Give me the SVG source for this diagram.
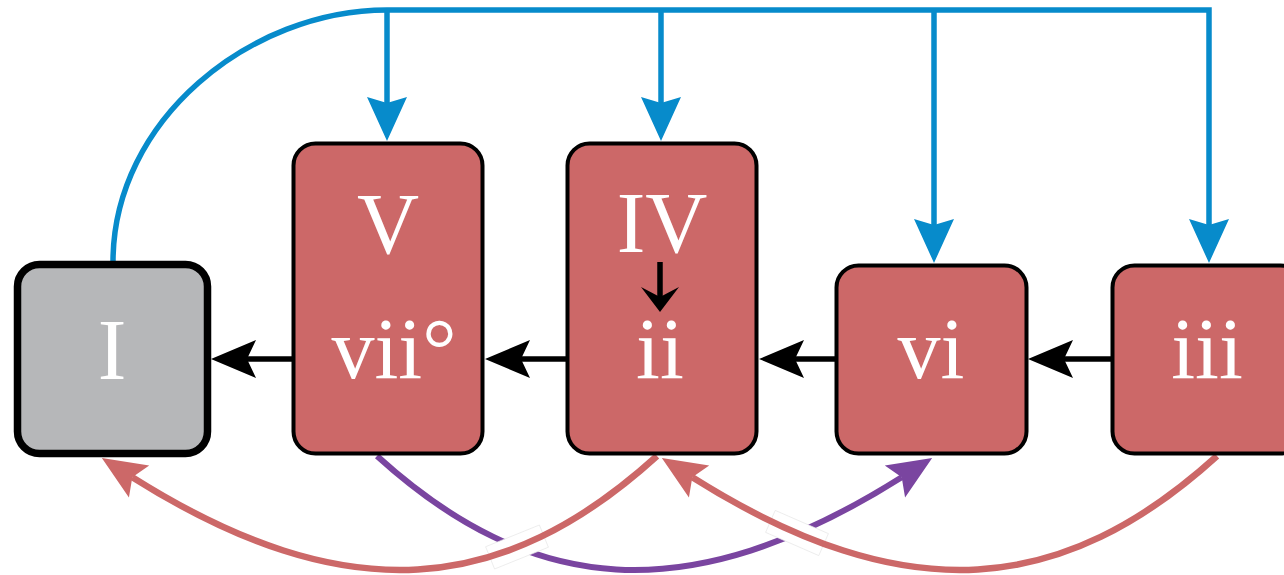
<svg xmlns="http://www.w3.org/2000/svg" width="1284" height="575" viewBox="0 0 1284 575">
<style>
.node{fill:#cc6868;stroke:#000;stroke-width:4}
.tonic{fill:#b6b7b9;stroke:#000;stroke-width:7.5}
.lbl{font-family:"Liberation Serif","Times New Roman",serif;font-size:86px;fill:#fff;text-anchor:middle}
.blue{fill:none;stroke:#078bcb;stroke-width:5.5}
.blk{fill:none;stroke:#000;stroke-width:5.5}
.red{fill:none;stroke:#cc6868;stroke-width:6.5}
.pur{fill:none;stroke:#7a45a0;stroke-width:6}
.gap{fill:#fff;stroke:#e4e4e4;stroke-width:0.6}
</style>
<defs>
<marker id="mBlue" markerUnits="userSpaceOnUse" viewBox="-12 -25 60 50" markerWidth="60" markerHeight="50" refX="0" refY="0" orient="auto" overflow="visible"><path d="M38 0 L-6 -20 L0 0 L-6 20 Z" fill="#078bcb"/></marker>
<marker id="mBlk" markerUnits="userSpaceOnUse" viewBox="-12 -25 60 50" markerWidth="60" markerHeight="50" refX="0" refY="0" orient="auto" overflow="visible"><path d="M36 0 L-9 -19 L0 0 L-9 19 Z" fill="#000"/></marker>
<marker id="mSmall" markerUnits="userSpaceOnUse" viewBox="-12 -25 60 50" markerWidth="60" markerHeight="50" refX="0" refY="0" orient="auto" overflow="visible"><path d="M15 0 L-10 -19 L0 0 L-10 19 Z" fill="#000"/></marker>
<marker id="mRed" markerUnits="userSpaceOnUse" viewBox="-12 -25 60 50" markerWidth="60" markerHeight="50" refX="0" refY="0" orient="auto" overflow="visible"><path d="M36 0 L-8 -19 L0 0 L-8 19 Z" fill="#cc6868"/></marker>
<marker id="mPur" markerUnits="userSpaceOnUse" viewBox="-12 -25 60 50" markerWidth="60" markerHeight="50" refX="0" refY="0" orient="auto" overflow="visible"><path d="M36 0 L-8 -19 L0 0 L-8 19 Z" fill="#7a45a0"/></marker>
</defs>
<g id="connectors">
<path class="blue" d="M113 262 C113 120 250 10 387 10 H1209 V225" marker-end="url(#mBlue)"/>
<path class="blue" d="M387 10 V103" marker-end="url(#mBlue)"/>
<path class="blue" d="M661 10 V103" marker-end="url(#mBlue)"/>
<path class="blue" d="M934 10 V225" marker-end="url(#mBlue)"/>
<path class="blk" d="M292 359 H247" marker-end="url(#mBlk)"/>
<path class="blk" d="M566 359 H521" marker-end="url(#mBlk)"/>
<path class="blk" d="M835 359 H795" marker-end="url(#mBlk)"/>
<path class="blk" d="M1111 359 H1064" marker-end="url(#mBlk)"/>
<path class="pur" d="M377 456 C530.1 594.8 686.9 612.6 901.7 477.2" marker-end="url(#mPur)"/>
<rect class="gap" x="-29" y="-12" width="58" height="24" transform="translate(517 547) rotate(-22)"/>
<rect class="gap" x="-29" y="-12" width="58" height="24" transform="translate(797 533) rotate(23.6)"/>
<path class="red" d="M657 456 C503.9 594.8 347.1 612.6 132.3 477.2" marker-end="url(#mRed)"/>
<path class="red" d="M1217 456 C1063.9 594.8 907.1 612.6 692.3 477.2" marker-end="url(#mRed)"/>
</g>
<g id="node-I">
<rect class="tonic" x="17.5" y="264.5" width="190" height="189" rx="22"/>
<text class="lbl" x="112" y="379">I</text>
</g>
<g id="node-V">
<rect class="node" x="293.5" y="143.5" width="189" height="310" rx="22"/>
<text class="lbl" x="388" y="253">V</text>
<text class="lbl" x="394" y="378">vii°</text>
</g>
<g id="node-IV">
<rect class="node" x="567.5" y="143.5" width="189" height="310" rx="22"/>
<text class="lbl" x="662" y="252">IV</text>
<path class="blk" d="M660 262 V297" marker-end="url(#mSmall)"/>
<text class="lbl" x="660" y="378">ii</text>
</g>
<g id="node-vi">
<rect class="node" x="836.5" y="265.5" width="190" height="188" rx="22"/>
<text class="lbl" x="931" y="378">vi</text>
</g>
<g id="node-iii">
<rect class="node" x="1112.5" y="265.5" width="190" height="188" rx="22"/>
<text class="lbl" x="1207" y="378">iii</text>
</g>
</svg>
